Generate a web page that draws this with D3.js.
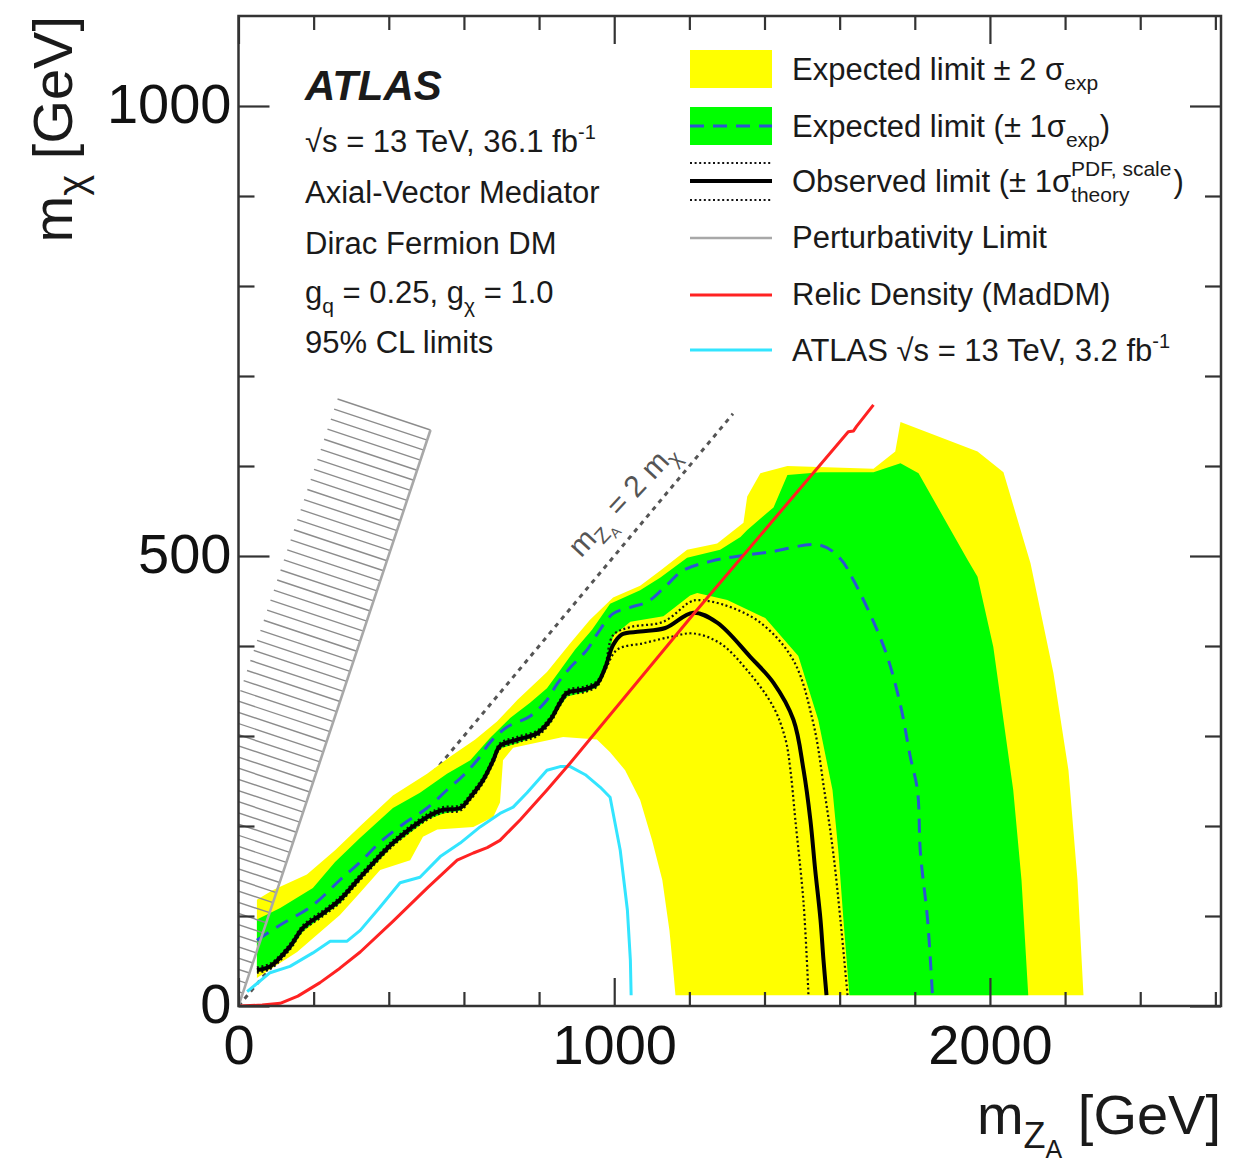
<!DOCTYPE html>
<html><head><meta charset="utf-8">
<script src="https://cdn.jsdelivr.net/npm/d3@7"></script>
<style>
body{margin:0;background:#fff}
svg{display:block}
text{font-family:"Liberation Sans",Arial,Helvetica,sans-serif;fill:#1a1a1a;white-space:pre}
</style>
</head><body>
<svg id="c" width="1246" height="1162"></svg>
<script>
// ---------------- data (m_ZA [GeV], m_chi [GeV]) ----------------
const xMax = 2615, yMax = 1100;
const xMajor = [0, 1000, 2000];
const xTickLabels = ["0", "1000", "2000"];
const xMinor = [200, 400, 600, 800, 1200, 1400, 1600, 1800, 2200, 2400, 2600];
const yMajor = [0, 500, 1000];
const yTickLabels = ["0", "500", "1000"];
const yMinor = [100, 200, 300, 400, 600, 700, 800, 900];

const yellowUpper = [[49,118],[92,129],[182,146],[257,173],[324,200],[411,234],[502,258],[563,277],[630,296],[688,316],[742,340],[821,371],[883,403],[935,429],[997,454],[1069,467],[1123,484],[1194,507],[1274,514],[1344,537],[1354,566],[1389,592],[1461,600],[1690,597],[1748,616],[1762,649],[1967,616],[2036,593],[2108,492],[2169,370],[2209,262],[2233,140],[2249,12]];
const yellowLower = [[49,31],[156,60],[270,101],[324,126],[377,151],[457,162],[491,188],[529,196],[625,199],[678,210],[696,226],[704,273],[731,287],[864,299],[954,296],[989,282],[1029,262],[1069,229],[1101,184],[1128,140],[1147,84],[1157,40],[1163,12]];
const greenUpper = [[49,96],[111,109],[198,131],[257,160],[324,187],[411,220],[483,237],[555,258],[617,273],[670,298],[723,320],[776,337],[821,353],[856,373],[896,396],[941,418],[989,447],[1069,462],[1123,476],[1194,498],[1282,507],[1336,521],[1354,529],[1424,554],[1461,590],[1549,593],[1690,593],[1762,603],[1810,592],[1940,496],[1967,477],[2009,399],[2062,240],[2084,140],[2102,12]];
const greenLower = [[49,38],[84,41],[137,62],[172,83],[225,100],[270,114],[324,140],[411,178],[502,207],[545,214],[590,217],[617,229],[651,248],[678,270],[696,286],[742,292],[795,300],[830,314],[856,333],[875,344],[923,349],[954,354],[976,372],[997,411],[1043,427],[1131,433],[1202,456],[1221,459],[1301,451],[1402,431],[1490,389],[1543,318],[1581,240],[1597,170],[1610,96],[1626,12]];
const expected = [[49,73],[111,90],[198,112],[270,140],[324,160],[377,182],[438,202],[502,220],[555,240],[598,256],[635,273],[670,293],[715,310],[776,322],[821,340],[848,358],[883,376],[928,396],[954,413],[997,436],[1043,443],[1088,449],[1131,464],[1184,484],[1256,494],[1317,499],[1408,504],[1549,512],[1602,497],[1637,473],[1690,427],[1727,388],[1762,334],[1788,277],[1807,240],[1815,170],[1834,96],[1847,12]];
const observed = [[49,40],[84,44],[137,66],[172,87],[225,103],[270,118],[324,143],[411,181],[502,210],[545,218],[590,220],[617,232],[651,251],[678,273],[696,289],[742,296],[795,303],[830,318],[856,337],[875,348],[923,352],[954,358],[976,376],[997,401],[1021,413],[1069,416],[1136,420],[1210,437],[1274,426],[1362,388],[1424,359],[1477,318],[1504,262],[1522,207],[1535,151],[1549,96],[1557,51],[1565,12]];
const theoryUp = [[49,43],[84,47],[137,69],[172,90],[225,106],[270,121],[324,146],[411,184],[502,213],[545,221],[590,223],[617,235],[651,254],[678,276],[696,292],[742,299],[795,306],[830,321],[856,340],[875,351],[923,355],[954,361],[976,379],[997,412],[1043,421],[1131,427],[1202,449],[1221,451],[1290,446],[1389,426],[1477,384],[1530,314],[1559,240],[1583,170],[1602,96],[1621,12]];
const theoryDown = [[49,37],[84,41],[137,63],[172,84],[225,100],[270,115],[324,140],[411,178],[502,207],[545,215],[590,217],[617,229],[651,248],[678,270],[696,286],[742,293],[795,300],[830,315],[856,334],[875,345],[923,349],[954,355],[976,373],[1008,396],[1077,403],[1149,410],[1210,414],[1282,403],[1354,373],[1424,332],[1456,296],[1469,262],[1482,207],[1504,114],[1517,12]];
const relic = [[0,0],[63,1],[111,3],[158,11],[217,26],[270,42],[324,60],[411,94],[502,131],[582,162],[625,170],[662,176],[696,184],[750,207],[821,240],[883,270],[1210,435],[1623,638],[1637,639],[1645,644],[1690,668]];
const atlas32 = [[23,16],[84,37],[137,44],[198,59],[244,72],[289,72],[324,84],[377,110],[430,137],[483,143],[537,166],[590,181],[643,199],[696,214],[731,221],[768,237],[821,262],[856,266],[883,266],[923,257],[963,243],[989,232],[1016,173],[1035,107],[1043,51],[1045,12]];
const kinematic = [[0,0],[1316,658]];       // m_ZA = 2 m_chi
const perturbativity = [[0,0],[511,640]];   // perturbativity limit
const kinLabelX = 1080;

// ---------------- layout ----------------
const L = 238.5, R = 1221, T = 16, B = 1006;
const svg = d3.select("#c");
const x = d3.scaleLinear().domain([0, xMax]).range([L, R]);
const y = d3.scaleLinear().domain([0, yMax]).range([B, T]);
const line = d3.line().x(d => x(d[0])).y(d => y(d[1]));
const smooth = d3.line().x(d => x(d[0])).y(d => y(d[1])).curve(d3.curveCatmullRom.alpha(0.5));
const band = (up, lo) => line(up.concat(lo.slice().reverse())) + "Z";

svg.append("defs").append("clipPath").attr("id", "plot")
  .append("rect").attr("x", L).attr("y", T).attr("width", R - L).attr("height", B - T);
const plot = svg.append("g").attr("clip-path", "url(#plot)");

const C = {yellow: "#ffff00", green: "#00ff00", blue: "#2c55d2", red: "#ff2222",
           cyan: "#33e5ff", gray: "#a8a8a8", hatch: "#8c8c8c", kin: "#555"};

// kinematic diagonal
plot.append("path").attr("d", line(kinematic)).attr("fill", "none")
  .attr("stroke", C.kin).attr("stroke-width", 3).attr("stroke-dasharray", "4.5,5");

// bands
plot.append("path").attr("d", band(yellowUpper, yellowLower)).attr("fill", C.yellow);
plot.append("path").attr("d", band(greenUpper, greenLower)).attr("fill", C.green);

// lines
const addLine = (data, color, w, dash, gen) => {
  const p = plot.append("path").attr("d", (gen || line)(data)).attr("fill", "none")
    .attr("stroke", color).attr("stroke-width", w).attr("stroke-linejoin", "round");
  if (dash) p.attr("stroke-dasharray", dash);
  return p;
};
addLine(atlas32, C.cyan, 3);
addLine(expected, C.blue, 3, "14,9", smooth);
addLine(theoryUp, "#111", 2.2, "2,2.6", smooth);
addLine(theoryDown, "#111", 2.2, "2,2.6", smooth);
addLine(observed, "#000", 4, null, smooth);
addLine(relic, C.red, 3);

// perturbativity hatched band
const P0 = [x(perturbativity[0][0]), y(perturbativity[0][1])];
const P1 = [x(perturbativity[1][0]), y(perturbativity[1][1])];
const len = Math.hypot(P1[0] - P0[0], P1[1] - P0[1]);
const u = [(P1[0] - P0[0]) / len, (P1[1] - P0[1]) / len];
const n = [u[1], -u[0]];
const hatchW = 98, hatchStep = 10.6;
const hatches = d3.range(len, 0, -hatchStep);
plot.append("g").selectAll("line").data(hatches).join("line")
  .attr("x1", t => P0[0] + u[0] * t).attr("y1", t => P0[1] + u[1] * t)
  .attr("x2", t => P0[0] + u[0] * t + n[0] * hatchW).attr("y2", t => P0[1] + u[1] * t + n[1] * hatchW)
  .attr("stroke", C.hatch).attr("stroke-width", 1.4);
plot.append("path").attr("d", line(perturbativity)).attr("fill", "none")
  .attr("stroke", C.gray).attr("stroke-width", 2.6);

// rich text helper
function rich(g, x0, y0, parts, size, extra) {
  const t = g.append("text").attr("x", x0).attr("y", y0).attr("font-size", size);
  if (extra) extra(t);
  let cur = 0;
  parts.forEach(p => {
    const s = p.s || 0;
    const ts = t.append("tspan").attr("dy", s - cur).text(p.t);
    if (p.f) ts.attr("font-size", p.f);
    cur = s;
  });
  return t;
}
// kinematic label
{
  const g = svg.append("g")
    .attr("transform", `translate(${x(kinLabelX)},${y(kinLabelX / 2)}) rotate(-47)`);
  rich(g, 0, -20, [{t: "m"}, {t: "Z", f: 21, s: 7}, {t: "A", f: 14, s: 12}, {t: " = 2 m", s: 0}, {t: "χ", f: 21, s: 7}], 30,
    t => t.attr("text-anchor", "middle").style("fill", "#555"));
}

// ---------------- axes ----------------
const styleAxis = g => {
  g.select(".domain").remove();
  g.selectAll("line").attr("stroke", "#333").attr("stroke-width", 2.2);
  g.attr("font-family", null).attr("font-size", 56);
  g.selectAll("text").style("fill", "#111");
};
svg.append("g").attr("transform", `translate(0,${B})`)
  .call(d3.axisBottom(x).tickValues(xMinor).tickSize(-14).tickFormat("")).call(styleAxis);
svg.append("g").attr("transform", `translate(0,${B})`)
  .call(d3.axisBottom(x).tickValues(xMajor).tickSize(-28).tickPadding(18).tickFormat((d, i) => xTickLabels[i])).call(styleAxis);
svg.append("g").attr("transform", `translate(0,${T})`)
  .call(d3.axisTop(x).tickValues(xMinor).tickSize(-14).tickFormat("")).call(styleAxis);
svg.append("g").attr("transform", `translate(0,${T})`)
  .call(d3.axisTop(x).tickValues(xMajor).tickSize(-28).tickFormat("")).call(styleAxis);
svg.append("g").attr("transform", `translate(0,${T})`)
  .call(g => g);
svg.append("g").attr("transform", `translate(${L},0)`)
  .call(d3.axisLeft(y).tickValues(yMinor).tickSize(-16).tickFormat("")).call(styleAxis);
const yLab = svg.append("g").attr("transform", `translate(${L},0)`)
  .call(d3.axisLeft(y).tickValues(yMajor).tickSize(-31).tickPadding(7).tickFormat((d, i) => yTickLabels[i])).call(styleAxis);
yLab.selectAll("text").attr("dy", "0.3em");
svg.append("g").attr("transform", `translate(${R},0)`)
  .call(d3.axisRight(y).tickValues(yMinor).tickSize(-16).tickFormat("")).call(styleAxis);
svg.append("g").attr("transform", `translate(${R},0)`)
  .call(d3.axisRight(y).tickValues(yMajor).tickSize(-31).tickFormat("")).call(styleAxis);
svg.append("rect").attr("x", L).attr("y", T).attr("width", R - L).attr("height", B - T)
  .attr("fill", "none").attr("stroke", "#333").attr("stroke-width", 2.5);

// axis titles
rich(svg, R, 1134, [{t: "m"}, {t: "Z", f: 36, s: 14}, {t: "A", f: 25, s: 24}, {t: " [GeV]", s: 0}], 56,
  t => t.attr("text-anchor", "end"));
{
  const g = svg.append("g").attr("transform", `translate(72,${T}) rotate(-90)`);
  rich(g, 0, 0, [{t: "m"}, {t: "χ", f: 40, s: 14}, {t: " [GeV]", s: 0}], 56, t => t.attr("text-anchor", "end"));
}

// ---------------- ATLAS text block ----------------
svg.append("text").attr("x", 305).attr("y", 100).attr("font-size", 42)
  .attr("font-weight", "bold").attr("font-style", "italic").text("ATLAS");
const TS = 31;
rich(svg, 305, 152, [{t: "√s = 13 TeV, 36.1 fb"}, {t: "-1", f: 20, s: -13}], TS);
rich(svg, 305, 203, [{t: "Axial-Vector Mediator"}], TS);
rich(svg, 305, 254, [{t: "Dirac Fermion DM"}], TS);
rich(svg, 305, 303, [{t: "g"}, {t: "q", f: 21, s: 10}, {t: " = 0.25, g", s: 0}, {t: "χ", f: 21, s: 10}, {t: " = 1.0", s: 0}], TS);
rich(svg, 305, 353, [{t: "95% CL limits"}], TS);

// ---------------- legend ----------------
const lx0 = 690, lx1 = 772, tx = 792;
const lg = svg.append("g");
lg.append("rect").attr("x", lx0).attr("y", 50).attr("width", lx1 - lx0).attr("height", 38).attr("fill", C.yellow);
rich(lg, tx, 80, [{t: "Expected limit ± 2 σ"}, {t: "exp", f: 21, s: 10}], TS);

lg.append("rect").attr("x", lx0).attr("y", 107).attr("width", lx1 - lx0).attr("height", 38).attr("fill", C.green);
lg.append("line").attr("x1", lx0).attr("x2", lx1).attr("y1", 126).attr("y2", 126)
  .attr("stroke", C.blue).attr("stroke-width", 3).attr("stroke-dasharray", "14,9");
rich(lg, tx, 137, [{t: "Expected limit (± 1σ"}, {t: "exp", f: 21, s: 10}, {t: ")", s: 0}], TS);

[163, 200].forEach(yy => lg.append("line").attr("x1", lx0).attr("x2", lx1).attr("y1", yy).attr("y2", yy)
  .attr("stroke", "#111").attr("stroke-width", 2.2).attr("stroke-dasharray", "2,2.6"));
lg.append("line").attr("x1", lx0).attr("x2", lx1).attr("y1", 181).attr("y2", 181)
  .attr("stroke", "#000").attr("stroke-width", 4);
{
  const t = rich(lg, tx, 192, [{t: "Observed limit (± 1σ"}], TS);
  const w = t.node().getComputedTextLength();
  const sup = lg.append("text").attr("x", tx + w).attr("y", 176).attr("font-size", 21).text("PDF, scale");
  const sub = lg.append("text").attr("x", tx + w).attr("y", 202).attr("font-size", 21).text("theory");
  const w2 = Math.max(sup.node().getComputedTextLength(), sub.node().getComputedTextLength());
  lg.append("text").attr("x", tx + w + w2 + 2).attr("y", 192).attr("font-size", TS).text(")");
}

lg.append("line").attr("x1", lx0).attr("x2", lx1).attr("y1", 238).attr("y2", 238)
  .attr("stroke", C.gray).attr("stroke-width", 2.6);
rich(lg, tx, 248, [{t: "Perturbativity Limit"}], TS);

lg.append("line").attr("x1", lx0).attr("x2", lx1).attr("y1", 295).attr("y2", 295)
  .attr("stroke", C.red).attr("stroke-width", 3);
rich(lg, tx, 305, [{t: "Relic Density (MadDM)"}], TS);

lg.append("line").attr("x1", lx0).attr("x2", lx1).attr("y1", 350).attr("y2", 350)
  .attr("stroke", C.cyan).attr("stroke-width", 3);
rich(lg, tx, 361, [{t: "ATLAS √s = 13 TeV, 3.2 fb"}, {t: "-1", f: 20, s: -13}], TS);
</script>
</body></html>
